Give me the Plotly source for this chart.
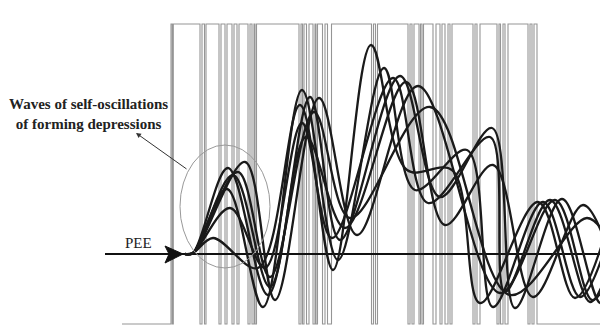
import plotly.graph_objects as go

# ---- square-wave (gray) signal: level toggles ----
wave_start_x = 122
wave_rise_x = 171
wave_fall_x = 537
wave_end_x = 608
level_low = 324
level_high = 24
pulses = [(172.3, 173.3), (200, 202), (204.5, 206), (219, 221), (225, 227), (232, 234), (237, 239),
          (248, 250), (252, 254), (255, 256.5), (299, 301), (302.5, 304), (306.5, 309),
          (313, 315), (316, 317.5), (322.5, 325), (327.5, 331.5), (371.5, 373.5),
          (375.5, 377.5), (408, 410), (412, 414), (419, 420.5), (422, 423.5),
          (433, 436), (440, 442), (445, 448), (450, 452), (473, 475), (477, 480),
          (497, 499), (500.5, 503), (505, 508), (528, 530), (532, 534)]

# ---- oscillation curves: (x, y) extrema ----
curve_x = [
    [185, 193, 213, 258, 300, 333, 371, 407, 452, 480, 538, 575, 608],
    [185, 193, 227, 263, 302, 338, 384, 415, 467, 493, 543, 580, 608],
    [185, 193, 230, 265, 302, 332, 393, 428, 490, 505, 550, 590, 608],
    [185, 193, 228, 268, 310, 340, 400, 440, 492, 515, 562, 600, 608],
    [185, 193, 233, 270, 306, 345, 406, 445, 493, 533, 583, 608],
    [185, 193, 245, 275, 319, 357, 418, 500, 555, 592, 608],
    [185, 193, 238, 270, 314, 350, 430, 510, 587, 608],
]
curve_y = [
    [254, 253, 238, 268, 105, 270, 45, 170, 170, 303, 202, 298, 225],
    [254, 253, 189, 307, 90, 260, 68, 190, 150, 307, 202, 297, 240],
    [254, 253, 208, 268, 123, 238, 78, 203, 137, 292, 200, 302, 270],
    [254, 253, 168, 295, 97, 240, 76, 197, 128, 308, 199, 303, 298],
    [254, 253, 175, 287, 137, 228, 82, 225, 165, 297, 205, 250],
    [254, 253, 162, 300, 98, 235, 86, 293, 200, 300, 280],
    [254, 253, 172, 277, 112, 218, 107, 295, 218, 240],
]

axis_y = 254
axis_x = [105, 608]

# build square wave path
wx = [wave_start_x, wave_rise_x, wave_rise_x]
wy = [level_low, level_low, level_high]
for a, b in pulses:
    wx += [a, a, b, b]
    wy += [level_high, level_low, level_low, level_high]
wx += [wave_fall_x, wave_fall_x, wave_end_x]
wy += [level_high, level_low, level_low]

fig = go.Figure()
fig.add_trace(go.Scatter(x=wx, y=wy, mode="lines",
                         line=dict(color="#959595", width=1.1),
                         hoverinfo="skip", showlegend=False))
fig.add_trace(go.Scatter(x=axis_x, y=[axis_y, axis_y], mode="lines",
                         line=dict(color="#111", width=2.2),
                         hoverinfo="skip", showlegend=False))
for cx, cy in zip(curve_x, curve_y):
    fig.add_trace(go.Scatter(x=cx, y=cy, mode="lines",
                             line=dict(color="#1a1a1a", width=2.3, shape="spline", smoothing=1.0),
                             hoverinfo="skip", showlegend=False))

# page body has an 8px margin: figure is 600x320 placed at (8,8)
fig.update_layout(
    width=600, height=320,
    margin=dict(l=0, r=0, t=0, b=0),
    paper_bgcolor="white", plot_bgcolor="white",
    xaxis=dict(range=[8, 608], visible=False, fixedrange=True),
    yaxis=dict(range=[328, 8], visible=False, fixedrange=True),
    shapes=[
        dict(type="circle", xref="x", yref="y", x0=180, x1=270, y0=145, y1=268,
             line=dict(color="#999", width=1)),
        dict(type="path", xref="x", yref="y",
             path="M 165 246 L 183 254 L 165 263 L 169 254 Z",
             fillcolor="#111", line=dict(color="#111", width=1)),
    ],
    annotations=[
        dict(x=88, y=114, xref="x", yref="y", showarrow=False,
             text="<b>Waves of self-oscillations<br>of forming depressions</b>",
             font=dict(family="Liberation Serif", size=15, color="#222"), align="center"),
        dict(x=138, y=243, xref="x", yref="y", showarrow=False, text="PEE",
             font=dict(family="Liberation Serif", size=15, color="#222")),
        dict(x=136, y=133, xref="x", yref="y", ax=188, ay=170, axref="x", ayref="y",
             text="", showarrow=True, arrowhead=2, arrowsize=1, arrowwidth=1,
             arrowcolor="#333"),
    ],
)
fig.write_html("out.html")
